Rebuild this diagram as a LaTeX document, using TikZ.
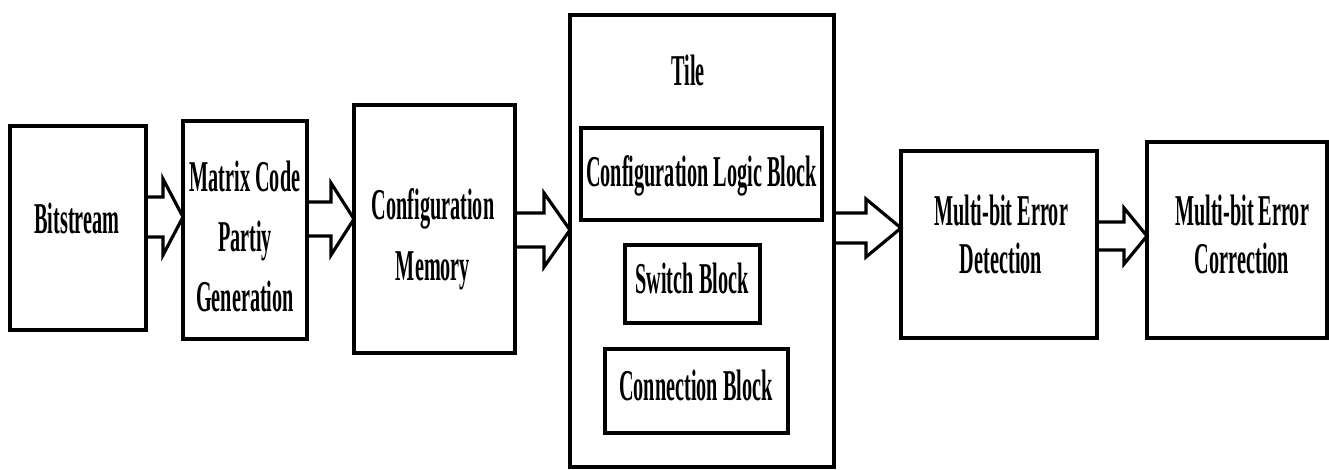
\documentclass[tikz,border=0pt]{standalone}
\usepackage{fontspec}
\newfontfamily\blockfont[FakeStretch=0.46]{Liberation Serif}
\usetikzlibrary{calc}

\newcommand{\blockarrow}[6]{%
  \draw[hollow] ($(#1.east |- 0,#3)+(0,-#4)$) -- ($(#2.west |- 0,#3)+(-#6,-#4)$)
    -- ($(#2.west |- 0,#3)+(-#6,-#5)$) -- (#2.west |- 0,#3)
    -- ($(#2.west |- 0,#3)+(-#6,#5)$) -- ($(#2.west |- 0,#3)+(-#6,#4)$)
    -- ($(#1.east |- 0,#3)+(0,#4)$);}

\begin{document}
\begin{tikzpicture}[x=0.75pt,y=-0.75pt,
  box/.style={draw, line width=2.6pt, outer sep=0pt, inner sep=0pt},
  lbl/.style={inner sep=0pt, align=center,
    font=\blockfont\bfseries\fontsize{33}{40}\selectfont},
  hollow/.style={line width=2.4pt, line join=miter}]

\useasboundingbox (0,0) rectangle (1329,469);

\node[box, minimum width=102pt, minimum height=153pt] (bits) at (78,228) {};
\node[lbl] (bitstxt) at (77,218) {Bitstream};
\node[box, minimum width=93pt, minimum height=163.5pt] (mcp) at (245,230) {};
\node[lbl] (mcptxt) at (245,236) {Matrix Code\\[5pt] Partiy\\[5pt] Generation};
\node[box, minimum width=120.75pt, minimum height=186pt] (mem) at (434.5,229) {};
\node[lbl] (memtxt) at (433,239) {Configuration\\[6pt] Memory};

\node[box, minimum width=198pt, minimum height=339pt] (tile) at (702,241) {};
\node[lbl] (tiletxt) at (688,70) {Tile};
\node[box, minimum width=180.75pt, minimum height=69pt] (clb) at (701.5,174) {};
\node[lbl] (clbtxt) at (701.5,176) {Configuration Logic Block};
\node[box, minimum width=101.25pt, minimum height=58.5pt] (sb) at (692.5,284) {};
\node[lbl] (sbtxt) at (692,278) {Switch Block};
\node[box, minimum width=137.25pt, minimum height=63pt] (cb) at (696.5,391) {};
\node[lbl] (cbtxt) at (696,385) {Connection Block};

\node[box, minimum width=147pt, minimum height=140.25pt] (med) at (999,244.5) {};
\node[lbl] (medtxt) at (1001,234) {Multi-bit Error\\[-4pt] Detection};
\node[box, minimum width=135pt, minimum height=147pt] (mec) at (1237,240) {};
\node[lbl] (mectxt) at (1242,234.5) {Multi-bit Error\\[-4pt] Correction};

\blockarrow{bits}{mcp}{217}{20}{38}{20}
\blockarrow{mcp}{mem}{219}{17}{36}{23}
\blockarrow{mem}{tile}{230}{17}{37}{26}
\blockarrow{tile}{med}{228}{15}{29}{35}
\blockarrow{med}{mec}{236}{14}{28}{23}
\end{tikzpicture}
\end{document}
